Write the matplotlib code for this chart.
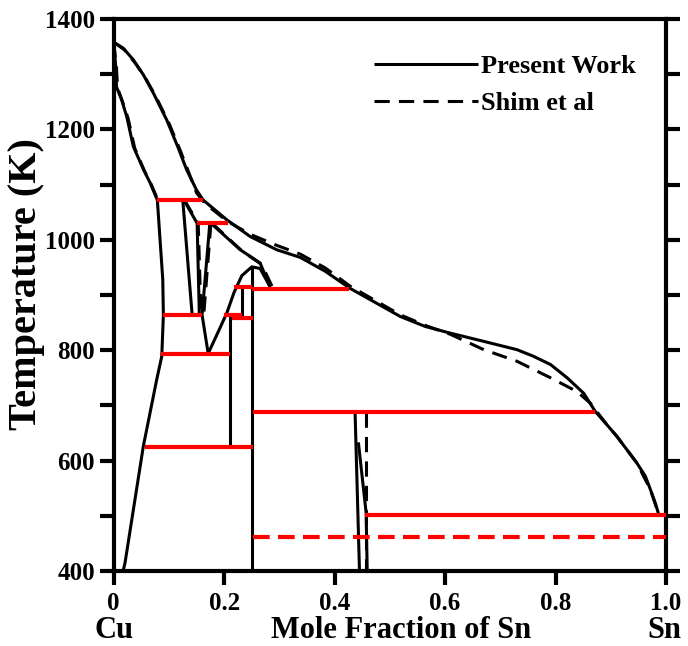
import numpy as np
import matplotlib
matplotlib.use("Agg")
import matplotlib.pyplot as plt
import matplotlib.transforms as mtransforms

plt.rcParams['font.family'] = ['Liberation Serif', 'DejaVu Serif']
plt.rcParams['font.weight'] = 'bold'

# liquidus, present work and Shim et al
liq_x = [0.0, 0.0174, 0.0355, 0.0536, 0.0717, 0.096, 0.117, 0.132, 0.150, 0.162, 0.205, 0.247,
         0.295, 0.338, 0.383, 0.428, 0.519, 0.564, 0.609, 0.670, 0.730, 0.760, 0.791, 0.821,
         0.851, 0.872, 0.893, 0.911, 0.929, 0.947, 0.9625, 0.972, 0.9806, 0.987]
liq_T = [1358, 1347, 1326, 1299, 1266, 1217, 1166, 1127, 1090, 1072, 1036, 1006,
         982, 968, 943, 912, 861, 843, 831, 816, 801, 789, 774, 750,
         722, 689, 665, 644, 620, 596, 572, 547, 523, 502]
liq_shim_x = [0.0, 0.0195, 0.039, 0.058, 0.077, 0.101, 0.122, 0.150, 0.165, 0.205, 0.247,
              0.295, 0.338, 0.383, 0.428, 0.519, 0.564, 0.609, 0.670, 0.730, 0.791, 0.839,
              0.863, 0.893, 0.911, 0.947, 0.972, 0.987]
liq_shim_T = [1358, 1344, 1320, 1292, 1258, 1209, 1158, 1085, 1066, 1034, 1010,
              990, 974, 949, 916, 864, 845, 829, 801, 780, 750, 725,
              704, 665, 644, 596, 547, 502]

# fcc (Cu) solidus and solvus
sol_x = [0.0, 0.0036, 0.005, 0.0145, 0.0236, 0.0355, 0.054, 0.066, 0.079]
sol_T = [1358, 1314, 1277, 1253, 1223, 1169, 1127, 1103, 1072]
sol_shim_x = [0.0, 0.005, 0.007, 0.016, 0.026, 0.038, 0.056, 0.068, 0.080]
sol_shim_T = [1358, 1312, 1275, 1250, 1220, 1166, 1124, 1100, 1072]
solv_x = [0.079, 0.0888, 0.0899, 0.087, 0.0779, 0.0536, 0.0205, 0.017]
solv_T = [1072, 928, 864, 789, 747, 626, 415, 400]

# beta and gamma boundaries
beta_l_x, beta_l_T = [0.125, 0.142], [1072, 864]
beta_r_x, beta_r_T = [0.127, 0.151, 0.155], [1072, 1030, 864]
beta_r_shim_x, beta_r_shim_T = [0.128, 0.153, 0.158], [1072, 1030, 864]
gam_l_x, gam_l_T = [0.174, 0.160, 0.171], [1030, 864, 794]
gam_l_shim_x, gam_l_shim_T = [0.176, 0.163], [1030, 864]
gam_r_x, gam_r_T = [0.176, 0.229, 0.265, 0.283], [1030, 982, 958, 915]
gam_r_shim_x, gam_r_shim_T = [0.178, 0.232, 0.268, 0.287], [1030, 980, 955, 915]
arc_x = [0.171, 0.190, 0.205, 0.218, 0.232, 0.250, 0.265, 0.283]
arc_T = [794, 835, 868, 905, 935, 951, 948, 915]

# compound boundaries
vert_x = [[0.2107, 0.2107], [0.232, 0.232], [0.25, 0.25], [0.437, 0.445], [0.443, 0.457, 0.459]]
vert_T = [[864, 625], [915, 858], [951, 400], [688, 400], [633, 506, 400]]
eta_shim_x, eta_shim_T = [0.457, 0.457], [688, 400]

# invariant reactions (temperature, left end, right end)
inv_T = [1072, 1030, 915, 911, 864, 864, 858, 794, 625, 688, 501]
inv_x0 = [0.079, 0.151, 0.218, 0.25, 0.090, 0.199, 0.215, 0.086, 0.057, 0.252, 0.455]
inv_x1 = [0.162, 0.207, 0.25, 0.426, 0.159, 0.232, 0.252, 0.211, 0.252, 0.872, 1.0]
inv_shim_T = [461]
inv_shim_x0 = [0.252]
inv_shim_x1 = [1.0]

fig = plt.figure(figsize=(6.88, 6.46), dpi=100)
ax = fig.add_axes([0.1653, 0.1161, 0.8027, 0.8545])

lw = 2.2
dash = (0, (5, 3))
solid_kw = dict(color='black', lw=lw, solid_capstyle='butt', solid_joinstyle='round')
dash_kw = dict(color='black', lw=lw, linestyle=dash)

for T, a, b in zip(inv_T, inv_x0, inv_x1):
    ax.plot([a, b], [T, T], color='red', lw=3, solid_capstyle='butt', zorder=3)
for T, a, b in zip(inv_shim_T, inv_shim_x0, inv_shim_x1):
    ax.plot([a, b], [T, T], color='red', lw=3, linestyle=(0, (4, 2)), zorder=3)

h1, = ax.plot(liq_x, liq_T, label='Present Work', **solid_kw)
h2, = ax.plot(liq_shim_x, liq_shim_T, label='Shim et al', **dash_kw)
ax.plot(sol_x, sol_T, **solid_kw)
ax.plot(sol_shim_x, sol_shim_T, **dash_kw)
ax.plot(solv_x, solv_T, **solid_kw)
ax.plot(beta_l_x, beta_l_T, **solid_kw)
ax.plot(beta_r_x, beta_r_T, **solid_kw)
ax.plot(beta_r_shim_x, beta_r_shim_T, **dash_kw)
ax.plot(gam_l_x, gam_l_T, **solid_kw)
ax.plot(gam_l_shim_x, gam_l_shim_T, **dash_kw)
ax.plot(gam_r_x, gam_r_T, **solid_kw)
ax.plot(gam_r_shim_x, gam_r_shim_T, **dash_kw)
ax.plot(arc_x, arc_T, **solid_kw)
for x, T in zip(vert_x, vert_T):
    ax.plot(x, T, **solid_kw)
ax.plot(eta_shim_x, eta_shim_T, **dash_kw)

ax.set_xlim(0, 1.0)
ax.set_ylim(400, 1400)
ax.set_xticks([0, 0.2, 0.4, 0.6, 0.8, 1.0])
ax.set_xticklabels(['0', '0.2', '0.4', '0.6', '0.8', '1.0'])
ax.set_yticks(np.arange(400, 1401, 200))
ax.set_yticks(np.arange(500, 1400, 200), minor=True)
for s in ax.spines.values():
    s.set_linewidth(3)
ax.tick_params(axis='both', which='both', direction='out', length=10, width=3,
               labelsize=18)
ax.tick_params(axis='x', pad=5)
ax.tick_params(axis='y', pad=3.5, right=True, which='both')

ax.set_xlabel('Mole Fraction of Sn', fontsize=22, fontweight='bold')
ax.xaxis.set_label_coords(0.52, -0.082)
ax.set_ylabel('Temperature (K)', fontsize=29, fontweight='bold')
ax.yaxis.set_label_coords(-0.124, 0.52)

trans = mtransforms.blended_transform_factory(ax.transData, ax.transAxes)
ax.text(0.0, -0.082, 'Cu', transform=trans, ha='center', va='top', fontsize=22, fontweight='bold')
ax.text(0.997, -0.082, 'Sn', transform=trans, ha='center', va='top', fontsize=22, fontweight='bold')

ax.legend(handles=[h1, h2], loc='upper left', bbox_to_anchor=(0.4716, 0.935), frameon=False,
          fontsize=19, handlelength=3.94, handletextpad=0.12, labelspacing=0.5, borderpad=0,
          borderaxespad=0)

fig.savefig('out.png', dpi=100)
